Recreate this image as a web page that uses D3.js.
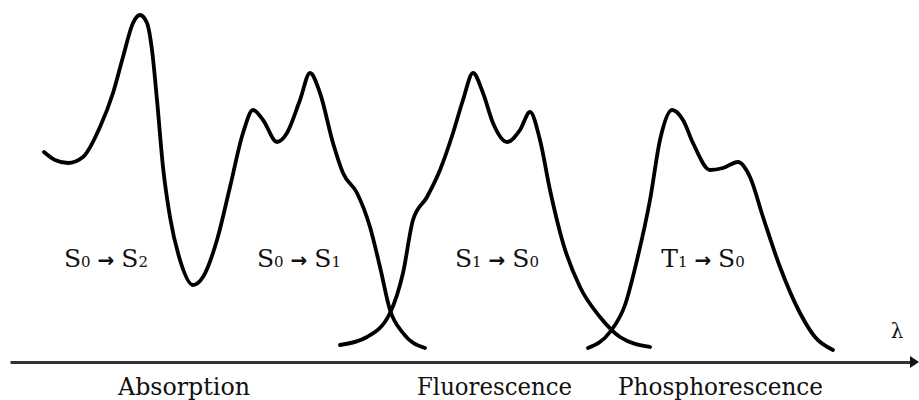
<!DOCTYPE html>
<html>
<head>
<meta charset="utf-8">
<script src="https://cdn.jsdelivr.net/npm/d3@7"></script>
<style>
  html, body { margin: 0; padding: 0; background: #fff; }
  svg { display: block; }
</style>
</head>
<body>
<div id="chart"></div>
<script>
// wavelength / intensity in arbitrary units
const absorptionX = [3.4, 4.5, 5.8, 7.3, 9.0, 10.3, 11.3, 12.3, 13.0, 13.7, 14.2, 14.7, 15.3, 16.0, 17.0, 18.3, 19.3, 20.7, 22.0, 23.3, 24.3, 25.3, 26.7, 27.7, 29.0, 30.0, 31.0, 32.3, 33.3, 34.7, 36.0, 37.0, 38.0, 39.3, 41.5];
const absorptionY = [20.8, 20.0, 19.7, 20.3, 23.3, 26.7, 30.3, 33.7, 34.5, 33.7, 31.0, 26.0, 19.3, 14.3, 10.0, 7.5, 8.3, 12.0, 17.3, 22.7, 25.0, 24.0, 21.8, 22.7, 26.0, 28.7, 26.7, 21.7, 18.7, 16.7, 13.3, 9.3, 5.0, 2.7, 1.2];

const fluorescenceX = [33.0, 35.7, 38.0, 39.3, 40.3, 41.7, 43.0, 44.3, 45.3, 46.3, 47.3, 48.3, 49.7, 51.0, 52.0, 53.0, 54.0, 55.3, 57.0, 59.0, 61.0, 64.0];
const fluorescenceY = [1.5, 2.3, 4.7, 8.7, 14.0, 16.3, 19.0, 22.7, 26.0, 28.7, 26.7, 23.7, 21.8, 23.0, 24.8, 22.0, 17.0, 11.7, 7.3, 4.3, 2.3, 1.3];

const phosphorescenceX = [57.8, 60.0, 61.5, 62.7, 64.0, 65.0, 66.2, 67.3, 68.3, 70.0, 71.3, 72.8, 74.0, 75.3, 77.0, 79.0, 80.5, 82.3];
const phosphorescenceY = [1.2, 2.8, 5.5, 10.0, 16.0, 22.0, 25.0, 24.0, 21.7, 19.0, 19.2, 19.8, 18.3, 14.3, 9.3, 4.7, 2.3, 1.0];

const bandNames = ['Absorption', 'Fluorescence', 'Phosphorescence'];
const transitionFrom = ['S0', 'S0', 'S1', 'T1'];
const transitionTo = ['S2', 'S1', 'S0', 'S0'];

// layout (wavelength units for horizontal placement)
const bandPos = [17.4, 48.45, 71.05];
const bandWidth = [132, 155, 205];
const transitionPos = [9.6, 28.9, 48.7, 69.3];

const width = 919;
const height = 400;

const svg = d3.select('#chart')
  .append('svg')
  .attr('width', width)
  .attr('height', height)
  .style('background', '#fff');

const x = d3.scaleLinear().domain([0, 90]).range([10, 910]);
const y = d3.scaleLinear().domain([0, 35]).range([360, 10]);

const line = d3.line()
  .x(d => x(d[0]))
  .y(d => y(d[1]))
  .curve(d3.curveMonotoneX);

const series = [
  d3.zip(absorptionX, absorptionY),
  d3.zip(fluorescenceX, fluorescenceY),
  d3.zip(phosphorescenceX, phosphorescenceY)
];

svg.selectAll('path.band')
  .data(series)
  .enter()
  .append('path')
  .attr('class', 'band')
  .attr('d', line)
  .attr('fill', 'none')
  .attr('stroke', '#000')
  .attr('stroke-width', 3.8)
  .attr('stroke-linecap', 'round')
  .attr('stroke-linejoin', 'round');

// wavelength axis with arrow
const axisY = 362;
const axisScale = x.copy().range([10, 912]);
const axis = svg.append('g')
  .attr('transform', `translate(0,${axisY})`)
  .call(d3.axisBottom(axisScale).tickValues([]).tickSizeOuter(0));
axis.select('.domain')
  .attr('stroke', '#333')
  .attr('stroke-width', 3);

svg.append('path')
  .attr('d', `M910,${axisY - 6}L919,${axisY}L910,${axisY + 6}Z`)
  .attr('fill', '#111');

svg.append('text')
  .attr('x', 897)
  .attr('y', 338)
  .attr('text-anchor', 'middle')
  .style('font-family', 'DejaVu Serif')
  .style('font-size', '20px')
  .attr('fill', '#111')
  .text('λ');

// band names under the axis
svg.selectAll('text.band-name')
  .data(bandNames)
  .enter()
  .append('text')
  .attr('class', 'band-name')
  .attr('x', (d, i) => x(bandPos[i]))
  .attr('y', 395)
  .attr('text-anchor', 'middle')
  .attr('textLength', (d, i) => bandWidth[i])
  .attr('lengthAdjust', 'spacingAndGlyphs')
  .style('font-family', 'DejaVu Serif')
  .style('font-size', '24px')
  .attr('fill', '#111')
  .text(d => d);

// transition labels
const tl = svg.selectAll('text.transition')
  .data(transitionFrom)
  .enter()
  .append('text')
  .attr('class', 'transition')
  .attr('x', (d, i) => x(transitionPos[i]))
  .attr('y', 267)
  .attr('text-anchor', 'middle')
  .style('font-family', 'DejaVu Serif')
  .style('font-size', '25px')
  .attr('fill', '#111');

tl.append('tspan').text(d => d[0]);
tl.append('tspan').style('font-size', '15px').text(d => d[1]);
tl.append('tspan')
  .style('font-family', 'DejaVu Sans')
  .style('font-weight', 'bold')
  .style('font-size', '20px')
  .text(' → ');
tl.append('tspan').text((d, i) => transitionTo[i][0]);
tl.append('tspan').style('font-size', '15px').text((d, i) => transitionTo[i][1]);
</script>
</body>
</html>
